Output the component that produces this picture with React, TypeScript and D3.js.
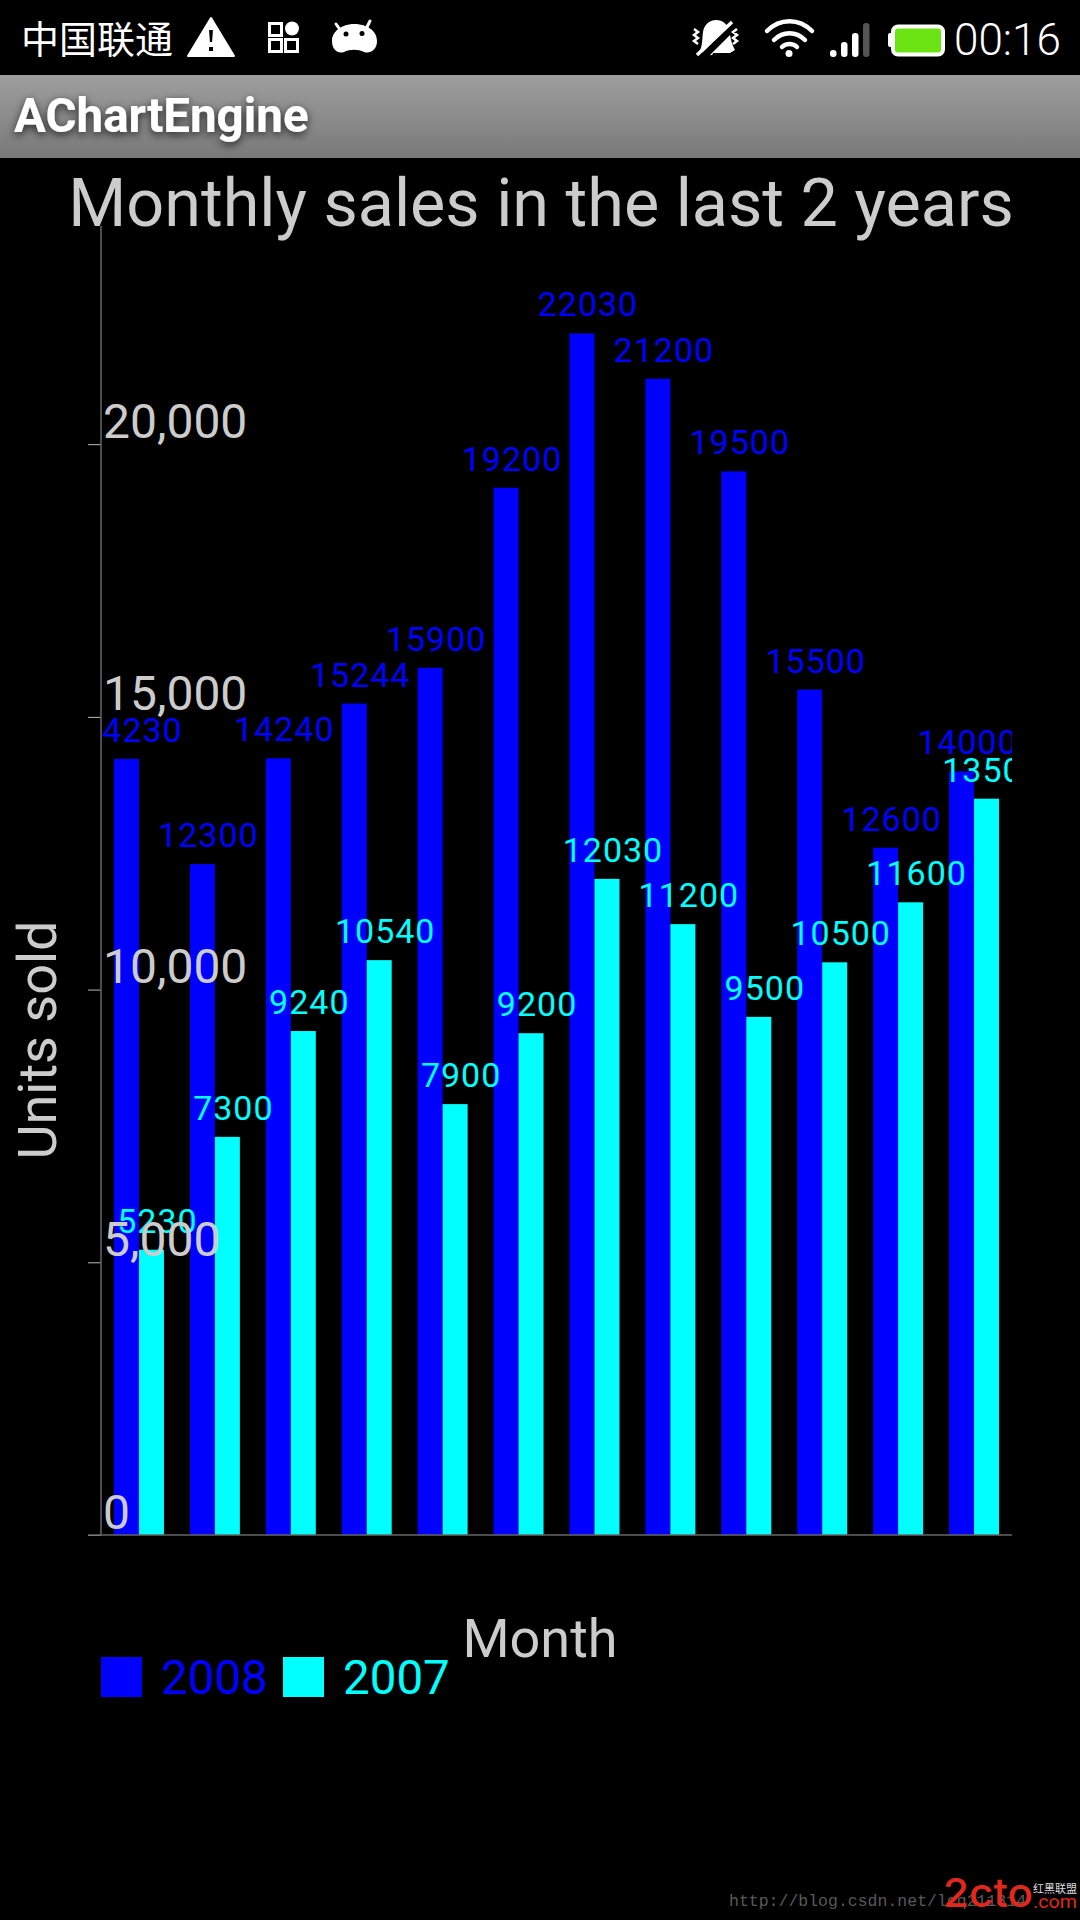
import React, { useRef, useEffect } from "react";
import * as d3 from "d3";

const months = [1, 2, 3, 4, 5, 6, 7, 8, 9, 10, 11, 12];
const sales2008 = [14230, 12300, 14240, 15244, 15900, 19200, 22030, 21200, 19500, 15500, 12600, 14000];
const sales2007 = [5230, 7300, 9240, 10540, 7900, 9200, 12030, 11200, 9500, 10500, 11600, 13500];
const yTicks = [0, 5000, 10000, 15000, 20000];
const seriesNames = ["2008", "2007"];
const seriesColors = ["#0000ff", "#00ffff"];

const App = () => {
  const chartRef = useRef<HTMLDivElement>(null);

  useEffect(() => {
    const width = 1080;
    const height = 1920;
    const left = 101;
    const right = 1012;
    const bottom = 1535;
    const top = 226;
    const barWidth = 25;
    const font = "Roboto, sans-serif";
    const gray = "#cccccc";

    const x = d3.scaleLinear().domain([0.5, 12.5]).range([left, right]);
    const y = d3.scaleLinear().domain([0, 24000]).range([bottom, top]);

    const svg = d3.create("svg")
      .attr("width", width)
      .attr("height", height)
      .attr("viewBox", [0, 0, width, height])
      .attr("style", "position:absolute;left:0;top:0;background:#000;display:block");

    const defs = svg.append("defs");
    const grad = defs.append("linearGradient")
      .attr("id", "bar-grad")
      .attr("x1", 0).attr("x2", 0).attr("y1", 0).attr("y2", 1);
    grad.append("stop").attr("offset", "0%").attr("stop-color", "#9e9e9e");
    grad.append("stop").attr("offset", "100%").attr("stop-color", "#797979");
    const blur = defs.append("filter").attr("id", "shadow")
      .attr("x", "-10%").attr("y", "-30%").attr("width", "120%").attr("height", "170%");
    blur.append("feDropShadow")
      .attr("dx", 0).attr("dy", 3).attr("stdDeviation", 4)
      .attr("flood-color", "#000").attr("flood-opacity", 0.75);
    defs.append("clipPath").attr("id", "plot-clip")
      .append("rect")
      .attr("x", left).attr("y", 0).attr("width", right - left).attr("height", height);

    // status bar
    const status = svg.append("g");
    status.append("text")
      .attr("x", 21).attr("y", 53)
      .attr("font-family", "'Noto Sans CJK SC'")
      .attr("font-size", 38)
      .attr("fill", "#fff")
      .text("中国联通");
    // warning
    status.append("path")
      .attr("fill", "#fff")
      .attr("fill-rule", "evenodd")
      .attr("stroke", "#fff").attr("stroke-width", 2).attr("stroke-linejoin", "round")
      .attr("d", "M211 18 L234 56 L188 56 Z M208 29 L214 29 L213 43 L209 43 Z M208 46 h6 v6 h-6 Z");
    // grid app icon
    status.append("path")
      .attr("fill", "none").attr("stroke", "#fff").attr("stroke-width", 3)
      .attr("d", "M269.5 23.5 h12 v12 h-12 Z M269.5 39.5 h12 v12 h-12 Z M285.5 39.5 h12 v12 h-12 Z");
    status.append("circle").attr("cx", 292).attr("cy", 28.5).attr("r", 7).attr("fill", "#fff");
    // android head
    status.append("path")
      .attr("fill", "#fff")
      .attr("d", "M332 41 C332 30 344 24 354 24 C366 24 377 30 377 41 C377 50 370 54 364 52 C358 49 350 49 344 52 C338 54 332 50 332 41 Z");
    status.append("path")
      .attr("fill", "none").attr("stroke", "#fff").attr("stroke-width", 3).attr("stroke-linecap", "round")
      .attr("d", "M336 24 L341 31 M370 21 L366 29");
    status.append("circle").attr("cx", 346).attr("cy", 34).attr("r", 2.5).attr("fill", "#000");
    status.append("circle").attr("cx", 362).attr("cy", 33.5).attr("r", 2.5).attr("fill", "#000");
    // muted bell
    status.append("path")
      .attr("fill", "#fff")
      .attr("d", "M716 20 C724 20 729 26 730 34 C731 42 733 46 735 50 L730 53 L713 53 C713 56 709 56 707 53 L699 52 C703 46 702 38 703 32 C704 25 709 20 716 20 Z");
    status.append("path")
      .attr("fill", "none").attr("stroke", "#000").attr("stroke-width", 7)
      .attr("d", "M738 22 L703 57");
    status.append("path")
      .attr("fill", "none").attr("stroke", "#fff").attr("stroke-width", 3.5)
      .attr("d", "M732 22 L697 55");
    status.append("path")
      .attr("fill", "none").attr("stroke", "#fff").attr("stroke-width", 2.5)
      .attr("d", "M694 29 l4 3 l-4 3 l4 3 l-4 3 l4 3 M737 29 l-4 3 l4 3 l-4 3 l4 3 l-4 3");
    // wifi
    status.append("path")
      .attr("fill", "none").attr("stroke", "#fff").attr("stroke-width", 4.5).attr("stroke-linecap", "round")
      .attr("d", "M767 31 C780 18 799 18 812 31 M774 40 C783 31 796 31 805 40 M782 47 C786 43 793 43 797 47");
    status.append("circle").attr("cx", 789).attr("cy", 53.5).attr("r", 3.5).attr("fill", "#fff");
    // signal
    [[830, 50], [841, 42], [852, 33]].forEach(([bx, by]) => {
      status.append("rect").attr("x", bx).attr("y", by).attr("width", 6.5).attr("height", 57 - by).attr("rx", 3).attr("fill", "#fff");
    });
    status.append("rect").attr("x", 863).attr("y", 23).attr("width", 6.5).attr("height", 34).attr("rx", 3).attr("fill", "#555");
    // battery
    status.append("rect").attr("x", 888).attr("y", 33).attr("width", 6).attr("height", 14).attr("rx", 2).attr("fill", "#fff");
    status.append("rect").attr("x", 893).attr("y", 26.5).attr("width", 50).attr("height", 28).attr("rx", 5)
      .attr("fill", "#6ce312").attr("stroke", "#fff").attr("stroke-width", 4);
    status.append("text")
      .attr("x", 954).attr("y", 55)
      .attr("font-family", font).attr("font-weight", 300)
      .attr("font-size", 44).attr("fill", "#fff")
      .text("00:16");

    // title bar
    svg.append("rect")
      .attr("x", 0).attr("y", 75).attr("width", width).attr("height", 83)
      .attr("fill", "url(#bar-grad)");
    svg.append("text")
      .attr("x", 14).attr("y", 132)
      .attr("font-family", font).attr("font-weight", 700)
      .attr("font-size", 47.5).attr("fill", "#fff")
      .attr("filter", "url(#shadow)")
      .text("AChartEngine");

    // bars
    const pairs = [sales2008, sales2007];
    pairs.forEach((values, s) => {
      svg.append("g")
        .attr("fill", seriesColors[s])
        .selectAll("rect")
        .data(values)
        .join("rect")
        .attr("x", (d, i) => x(months[i]) - (s === 0 ? barWidth : 0))
        .attr("y", d => y(d))
        .attr("width", barWidth)
        .attr("height", d => y(0) - y(d));
    });

    // value labels, cut off at the plot edges
    const labels = svg.append("g").attr("clip-path", "url(#plot-clip)");
    pairs.forEach((values, s) => {
      labels.append("g")
        .attr("fill", seriesColors[s])
        .attr("font-family", font)
        .attr("font-size", 34)
        .attr("letter-spacing", 1)
        .attr("text-anchor", "middle")
        .selectAll("text")
        .data(values)
        .join("text")
        .attr("x", (d, i) => x(months[i]) + (s === 0 ? -barWidth / 2 : barWidth / 2) + 6)
        .attr("y", d => y(d) - 17)
        .text(d => d);
    });

    // axes
    const yAxis = svg.append("g")
      .attr("transform", `translate(${left},0)`)
      .call(d3.axisLeft(y).tickValues(yTicks).tickSize(13).tickFormat(d3.format(",")));
    yAxis.select(".domain").remove();
    yAxis.selectAll(".tick line").attr("stroke", "#bbbbbb").attr("stroke-width", 1);
    yAxis.selectAll(".tick text")
      .attr("x", 2)
      .attr("dy", -7)
      .attr("y", 0)
      .attr("text-anchor", "start")
      .attr("font-family", font)
      .attr("font-size", 48)
      .attr("fill", gray);
    svg.append("line")
      .attr("x1", left).attr("x2", left)
      .attr("y1", top).attr("y2", bottom)
      .attr("stroke", "#666").attr("stroke-width", 1.5);
    svg.append("line")
      .attr("x1", left - 13).attr("x2", right)
      .attr("y1", bottom).attr("y2", bottom)
      .attr("stroke", "#666").attr("stroke-width", 1.5);

    // titles
    svg.append("text")
      .attr("x", 541).attr("y", 226)
      .attr("text-anchor", "middle")
      .attr("font-family", font).attr("font-size", 66.5)
      .attr("fill", gray)
      .text("Monthly sales in the last 2 years");
    svg.append("text")
      .attr("x", 540).attr("y", 1657)
      .attr("text-anchor", "middle")
      .attr("font-family", font).attr("font-size", 54)
      .attr("fill", gray)
      .text("Month");
    svg.append("text")
      .attr("transform", "translate(56,1040) rotate(-90)")
      .attr("text-anchor", "middle")
      .attr("font-family", font).attr("font-size", 54)
      .attr("fill", gray)
      .text("Units sold");

    // legend
    const legendX = d3.scalePoint().domain(seriesNames).range([101, 283]);
    const legend = svg.append("g");
    seriesNames.forEach((name, s) => {
      legend.append("rect")
        .attr("x", legendX(name)).attr("y", 1657)
        .attr("width", 41).attr("height", 40)
        .attr("fill", seriesColors[s]);
      legend.append("text")
        .attr("x", legendX(name) + 60).attr("y", 1694)
        .attr("font-family", font).attr("font-size", 47.5)
        .attr("fill", seriesColors[s])
        .text(name);
    });

    // watermark
    svg.append("text")
      .attr("x", 729).attr("y", 1906)
      .attr("font-family", "'Liberation Mono', monospace")
      .attr("font-size", 16.5)
      .attr("fill", "#5a5a5a")
      .text("http://blog.csdn.net/lcq211814");
    svg.append("text")
      .attr("x", 943).attr("y", 1907)
      .attr("font-family", "Inter, sans-serif")
      .attr("font-weight", 500)
      .attr("font-size", 40)
      .attr("fill", "#e0281e")
      .attr("textLength", 90)
      .attr("lengthAdjust", "spacingAndGlyphs")
      .text("2cto");
    svg.append("text")
      .attr("x", 1033).attr("y", 1908)
      .attr("font-family", "Roboto, sans-serif")
      .attr("font-size", 19)
      .attr("fill", "#e0281e")
      .attr("textLength", 44)
      .attr("lengthAdjust", "spacingAndGlyphs")
      .text(".com");
    svg.append("text")
      .attr("x", 1033).attr("y", 1893)
      .attr("font-family", "'Noto Sans CJK SC'")
      .attr("font-size", 11)
      .attr("fill", "#dddddd")
      .text("红黑联盟");

    chartRef.current.innerHTML = "";
    chartRef.current.appendChild(svg.node());
  }, []);

  return <div ref={chartRef} />;
};

export default App;
